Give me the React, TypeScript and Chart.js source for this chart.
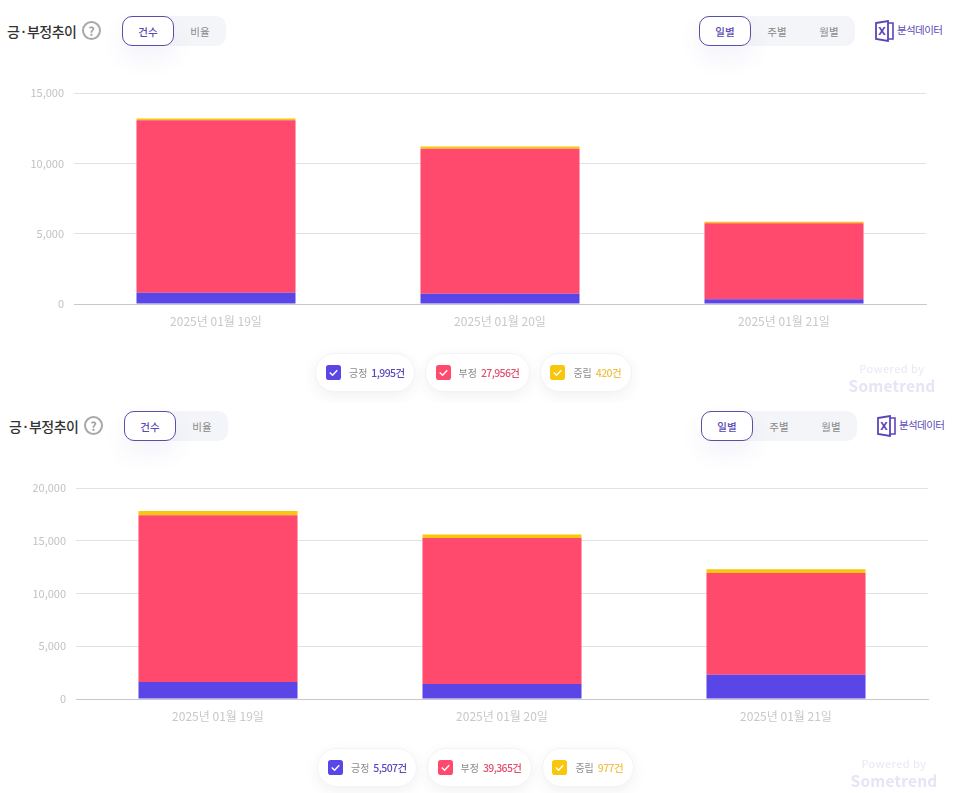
import React, { useEffect, useRef } from 'react';
import Chart from 'chart.js/auto';

const days = ['2025년 01월 19일', '2025년 01월 20일', '2025년 01월 21일'];

const positiveTop = [800, 730, 340];
const negativeTop = [12265, 10300, 5400];
const neutralTop = [125, 160, 115];
const totalsTop = ['1,995건', '27,956건', '420건'];

const positiveBottom = [1620, 1430, 2300];
const negativeBottom = [15800, 13830, 9640];
const neutralBottom = [400, 330, 370];
const totalsBottom = ['5,507건', '39,365건', '977건'];

const seriesNames = ['긍정', '부정', '중립'];
const seriesColors = ['#5a45e6', '#ff4a6e', '#f8c60b'];
const valueColors = ['#5a4ab8', '#e0506f', '#efc14a'];

const FONT = "'Noto Sans CJK KR', 'Noto Sans', sans-serif";

interface BarsProps {
  positive: number[];
  negative: number[];
  neutral: number[];
  max: number;
  step: number;
}

const Bars: React.FC<BarsProps> = ({ positive, negative, neutral, max, step }) => {
  const chartRef = useRef<HTMLCanvasElement>(null);

  useEffect(() => {
    if (!chartRef.current) return;
    const chart = new Chart(chartRef.current, {
      type: 'bar',
      data: {
        labels: days,
        datasets: [positive, negative, neutral].map((data, i) => ({
          label: seriesNames[i],
          data,
          backgroundColor: seriesColors[i],
          borderWidth: 0,
          barPercentage: 0.56,
          categoryPercentage: 1,
        })),
      },
      options: {
        animation: false,
        responsive: false,
        layout: { padding: { top: 33, right: 34, left: 0, bottom: 0 } },
        plugins: { legend: { display: false }, tooltip: { enabled: false } },
        scales: {
          x: {
            stacked: true,
            afterFit: (scale: any) => {
              scale.height = 46;
            },
            grid: { display: false },
            border: { color: '#c9c9c9' },
            ticks: { color: '#c8c8c8', font: { family: FONT, size: 12 }, padding: 2 },
          },
          y: {
            stacked: true,
            min: 0,
            max,
            afterFit: (scale: any) => {
              scale.width = 74;
            },
            grid: { color: '#e2e2e2', drawTicks: false },
            border: { display: false },
            ticks: {
              stepSize: step,
              color: '#c2c2c2',
              padding: 10,
              font: { family: FONT, size: 11 },
              callback: (v: any) => Number(v).toLocaleString('en-US'),
            },
          },
        },
      },
    });
    return () => chart.destroy();
  }, [positive, negative, neutral, max, step]);

  return <canvas ref={chartRef} width={960} height={290} style={{ position: 'absolute', left: 0, top: 60, width: 960, height: 290 }} />;
};

const Toggle: React.FC<{ left: number; items: string[] }> = ({ left, items }) => (
  <div style={{ position: 'absolute', left, top: 16, height: 30, display: 'flex', background: '#f4f5f8', borderRadius: 10 }}>
    {items.map((item, i) => (
      <div
        key={item}
        style={{
          width: 52,
          height: 30,
          boxSizing: 'border-box',
          display: 'flex',
          alignItems: 'center',
          justifyContent: 'center',
          fontSize: 10.5,
          fontWeight: i === 0 ? 500 : 400,
          color: i === 0 ? '#5a4ab8' : '#8a8a8a',
          background: i === 0 ? '#fff' : 'transparent',
          border: i === 0 ? '1px solid #5a4fa8' : 'none',
          borderRadius: 10,
          boxShadow: i === 0 ? '0 12px 24px rgba(90,70,200,0.07)' : 'none',
        }}
      >
        {item}
      </div>
    ))}
  </div>
);

const ExcelIcon = () => (
  <svg width="20" height="22" viewBox="0 0 20 22" style={{ position: 'absolute', left: 875, top: 20 }}>
    <path d="M1 3 L13 1 V21 L1 19 Z" fill="#fff" stroke="#5a45b8" strokeWidth="1.8" />
    <path d="M13 3 H18 V19 H13" fill="none" stroke="#5a45b8" strokeWidth="1.6" />
    <text x="7" y="15" textAnchor="middle" fontSize="11" fontWeight="700" fill="#5a45b8" fontFamily="'Noto Sans', sans-serif">X</text>
  </svg>
);

const LegendPills: React.FC<{ totals: string[] }> = ({ totals }) => (
  <div style={{ position: 'absolute', left: 0, width: 947, top: 353, display: 'flex', justifyContent: 'center', gap: 10 }}>
    {seriesNames.map((name, i) => (
      <div
        key={name}
        style={{
          height: 39,
          boxSizing: 'border-box',
          padding: '0 9.5px',
          display: 'flex',
          alignItems: 'center',
          background: '#fff',
          border: '1px solid #f3f3f5',
          borderRadius: 20,
          boxShadow: '0 4px 14px rgba(60,60,90,0.07)',
          fontSize: 10,
          whiteSpace: 'nowrap',
        }}
      >
        <svg width="15" height="15" viewBox="0 0 16 16" style={{ marginRight: 8 }}>
          <rect width="16" height="16" rx="3" fill={seriesColors[i]} />
          <path d="M4 8 L7 11 L12 5.5" fill="none" stroke="#fff" strokeWidth="1.5" />
        </svg>
        <span style={{ color: '#8c8c8c', marginRight: 4 }}>{name}</span>
        <span style={{ color: valueColors[i], fontSize: 10.5, fontWeight: 500, letterSpacing: '-0.6px' }}>{totals[i]}</span>
      </div>
    ))}
  </div>
);

interface PanelProps extends BarsProps {
  totals: string[];
  dx: number;
  dy: number;
  clipTop: number;
  height: number;
}

const Panel: React.FC<PanelProps> = ({ totals, dx, dy, clipTop, height, ...bars }) => (
  <div style={{ position: 'absolute', left: dx, top: dy, width: 960, height, clipPath: `inset(${clipTop}px 0 0 0)`, background: '#fff' }}>
    <div style={{ position: 'absolute', left: 7, top: 19, fontSize: 14, lineHeight: '24px', fontWeight: 500, color: '#333', letterSpacing: '-0.5px' }}>긍·부정추이</div>
    <div
      style={{
        position: 'absolute',
        left: 82,
        top: 21,
        width: 19,
        height: 19,
        boxSizing: 'border-box',
        border: '2px solid #a8a8a8',
        borderRadius: '50%',
        color: '#a0a0a0',
        fontSize: 12,
        fontWeight: 700,
        lineHeight: '15px',
        textAlign: 'center',
      }}
    >
      ?
    </div>
    <Toggle left={122} items={['건수', '비율']} />
    <Toggle left={699} items={['일별', '주별', '월별']} />
    <ExcelIcon />
    <div style={{ position: 'absolute', left: 897, top: 22, fontSize: 10.5, lineHeight: '16px', color: '#5a4ab8', letterSpacing: '-0.6px' }}>분석데이터</div>
    <Bars {...bars} />
    <LegendPills totals={totals} />
    <div style={{ position: 'absolute', left: 832, width: 120, top: 361, textAlign: 'center', fontSize: 11, lineHeight: '14px', color: '#e9e7f6', letterSpacing: '0.5px' }}>Powered by</div>
    <div style={{ position: 'absolute', left: 832, width: 120, top: 375, textAlign: 'center', fontSize: 15.5, lineHeight: '20px', fontWeight: 700, color: '#e6e4f5', letterSpacing: '0.2px' }}>Sometrend</div>
  </div>
);

export default function App() {
  return (
    <div style={{ position: 'absolute', left: 0, top: 0, width: 960, height: 793, overflow: 'hidden', background: '#fff', fontFamily: FONT }}>
      <Panel positive={positiveTop} negative={negativeTop} neutral={neutralTop} max={15000} step={5000} totals={totalsTop} dx={0} dy={0} clipTop={0} height={403} />
      <Panel positive={positiveBottom} negative={negativeBottom} neutral={neutralBottom} max={20000} step={5000} totals={totalsBottom} dx={2} dy={395} clipTop={8} height={398} />
    </div>
  );
}
